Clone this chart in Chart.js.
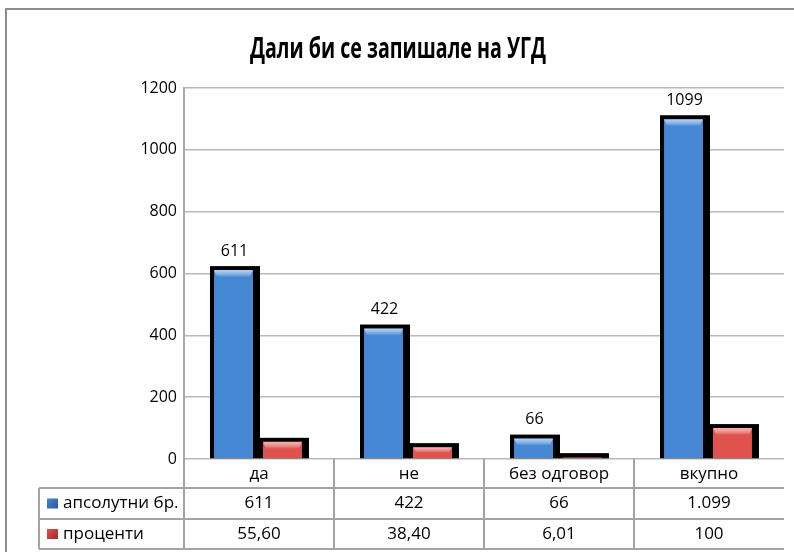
<!DOCTYPE html>
<html>
<head>
<meta charset="utf-8">
<script src="https://cdn.jsdelivr.net/npm/chart.js@4"></script>
<style>
  html, body { margin: 0; padding: 0; background: #fff; }
  #wrap { width: 794px; height: 552px; position: relative; }
</style>
</head>
<body>
<div id="wrap"><canvas id="chart" width="794" height="552"></canvas></div>
<script>
const title = "Дали би се запишале на УГД";
const categories = ["да", "не", "без одговор", "вкупно"];
const seriesNames = ["апсолутни бр.", "проценти"];
const absValues = [611, 422, 66, 1099];
const pctValues = [55.60, 38.40, 6.01, 100];
const yMin = 0, yMax = 1200, yStep = 200;

const BLUE = "#4688d4";
const RED = "#e0524e";
const FONT = "'Open Sans', 'Noto Sans', sans-serif";

function fmtAbs(v) {
  return String(v).replace(/\B(?=(\d{3})+(?!\d))/g, ".");
}
function fmtPct(v) {
  return Number.isInteger(v) ? String(v) : v.toFixed(2).replace(".", ",");
}

// frame + title
const framePlugin = {
  id: "frame",
  beforeDraw(chart) {
    const c = chart.ctx;
    c.save();
    c.fillStyle = "#fff";
    c.fillRect(0, 0, chart.width, chart.height);
    c.strokeStyle = "#8e8e8e";
    c.lineWidth = 2;
    c.beginPath();
    c.moveTo(6, chart.height);
    c.lineTo(6, 9);
    c.lineTo(chart.width, 9);
    c.stroke();
    c.restore();
  },
  afterDraw(chart) {
    const c = chart.ctx;
    c.save();
    c.font = "bold 28px " + FONT;
    c.fillStyle = "#000";
    c.textAlign = "center";
    c.textBaseline = "alphabetic";
    const w = c.measureText(title).width;
    const sx = 296 / w;
    c.translate(398, 58);
    c.scale(sx, 1);
    c.fillText(title, 0, 0);
    c.restore();
  }
};

// dark shadow behind bars, bevel highlight and value labels
const barLook = {
  id: "barLook",
  beforeDatasetsDraw(chart) {
    const c = chart.ctx;
    c.save();
    c.fillStyle = "#000";
    chart.data.datasets.forEach((ds, di) => {
      chart.getDatasetMeta(di).data.forEach((el) => {
        const p = el.getProps(["x", "y", "width", "base"], true);
        const t = p.y - 4;
        c.fillRect(p.x - p.width / 2, t, p.width + 1, p.base - t);
      });
    });
    c.restore();
  },
  afterDatasetsDraw(chart) {
    const c = chart.ctx;
    c.save();
    chart.data.datasets.forEach((ds, di) => {
      const meta = chart.getDatasetMeta(di);
      meta.data.forEach((el) => {
        const p = el.getProps(["x", "y", "width", "base"], true);
        const l = p.x - p.width / 2 + 4, r = p.x + p.width / 2 - 6;
        const t = p.y;
        const h = Math.min(7, (p.base - t) / 2);
        if (h <= 1) return;
        const g = c.createLinearGradient(0, t, 0, t + h);
        g.addColorStop(0, di === 0 ? "rgba(175,212,250,0.95)" : "rgba(250,175,170,0.95)");
        g.addColorStop(1, "rgba(255,255,255,0)");
        c.fillStyle = g;
        c.beginPath();
        c.moveTo(l, t);
        c.lineTo(r, t);
        c.lineTo(r - 3, t + h);
        c.lineTo(l + 3, t + h);
        c.closePath();
        c.fill();
      });
    });
    const meta0 = chart.getDatasetMeta(0);
    c.font = "16px " + FONT;
    c.fillStyle = "#000";
    c.textAlign = "center";
    c.textBaseline = "middle";
    meta0.data.forEach((el, i) => {
      c.fillText(String(absValues[i]), el.x, el.y - 19);
    });
    c.restore();
  }
};

// data table under the plot
const dataTable = {
  id: "dataTable",
  afterDraw(chart) {
    const c = chart.ctx;
    const a = chart.chartArea;
    const x = chart.scales.x;
    const n = categories.length;
    const cw = (a.right - a.left) / n;
    const top = a.bottom, r1 = top + 29, r2 = r1 + 31, r3 = r2 + 30;
    const tl = 39;
    c.save();
    c.strokeStyle = "#a3a3a3";
    c.lineWidth = 2;
    c.beginPath();
    [r1, r2, r3].forEach(yy => { c.moveTo(tl, yy); c.lineTo(a.right, yy); });
    c.moveTo(tl, r1); c.lineTo(tl, r3);
    for (let i = 0; i < n; i++) {
      const bx = Math.round(a.left + i * cw);
      c.moveTo(bx, top); c.lineTo(bx, r3);
    }
    c.stroke();

    c.font = "17px " + FONT;
    c.fillStyle = "#000";
    c.textAlign = "center";
    c.textBaseline = "middle";
    categories.forEach((cat, i) => {
      const cx = x.getPixelForValue(i);
      c.fillText(cat, cx, (top + r1) / 2 + 1);
      c.fillText(fmtAbs(absValues[i]), cx, (r1 + r2) / 2);
      c.fillText(fmtPct(pctValues[i]), cx, (r2 + r3) / 2);
    });

    const rows = [[BLUE, "#245a9c", (r1 + r2) / 2], [RED, "#a32a27", (r2 + r3) / 2]];
    rows.forEach((row, k) => {
      const sy = row[2] - 5;
      const g = c.createLinearGradient(47, sy, 58, sy + 10);
      g.addColorStop(0, row[0]);
      g.addColorStop(1, row[1]);
      c.fillStyle = g;
      c.fillRect(47, sy, 11, 10);
      c.fillStyle = "#000";
      c.textAlign = "left";
      c.fillText(seriesNames[k], 63, row[2]);
    });
    c.restore();
  }
};

new Chart(document.getElementById("chart"), {
  type: "bar",
  data: {
    labels: categories,
    datasets: [
      {
        label: seriesNames[0],
        data: absValues,
        backgroundColor: BLUE,
        borderColor: "#000",
        borderWidth: { left: 4, right: 6, top: 0, bottom: 0 },
        borderSkipped: "bottom"
      },
      {
        label: seriesNames[1],
        data: pctValues,
        backgroundColor: RED,
        borderColor: "#000",
        borderWidth: { left: 4, right: 6, top: 0, bottom: 0 },
        borderSkipped: "bottom"
      }
    ]
  },
  options: {
    responsive: false,
    animation: false,
    events: [],
    layout: { padding: { top: 88, right: 10, bottom: 0, left: 0 } },
    datasets: { bar: { categoryPercentage: 0.653, barPercentage: 1.0 } },
    plugins: {
      legend: { display: false },
      title: { display: false },
      tooltip: { enabled: false }
    },
    scales: {
      x: {
        grid: { display: false },
        border: { display: false },
        ticks: { display: false },
        afterFit(s) { s.height = 93; }
      },
      y: {
        min: yMin,
        max: yMax,
        ticks: {
          stepSize: yStep,
          padding: 7,
          color: "#000",
          font: { family: FONT, size: 16 },
          callback: (v) => String(v)
        },
        grid: { color: "#b8b8b8", lineWidth: 1.5, drawTicks: false },
        border: { color: "#a8a8a8", width: 2 },
        afterFit(s) { s.width = 184; }
      }
    }
  },
  plugins: [framePlugin, barLook, dataTable]
});
</script>
</body>
</html>
